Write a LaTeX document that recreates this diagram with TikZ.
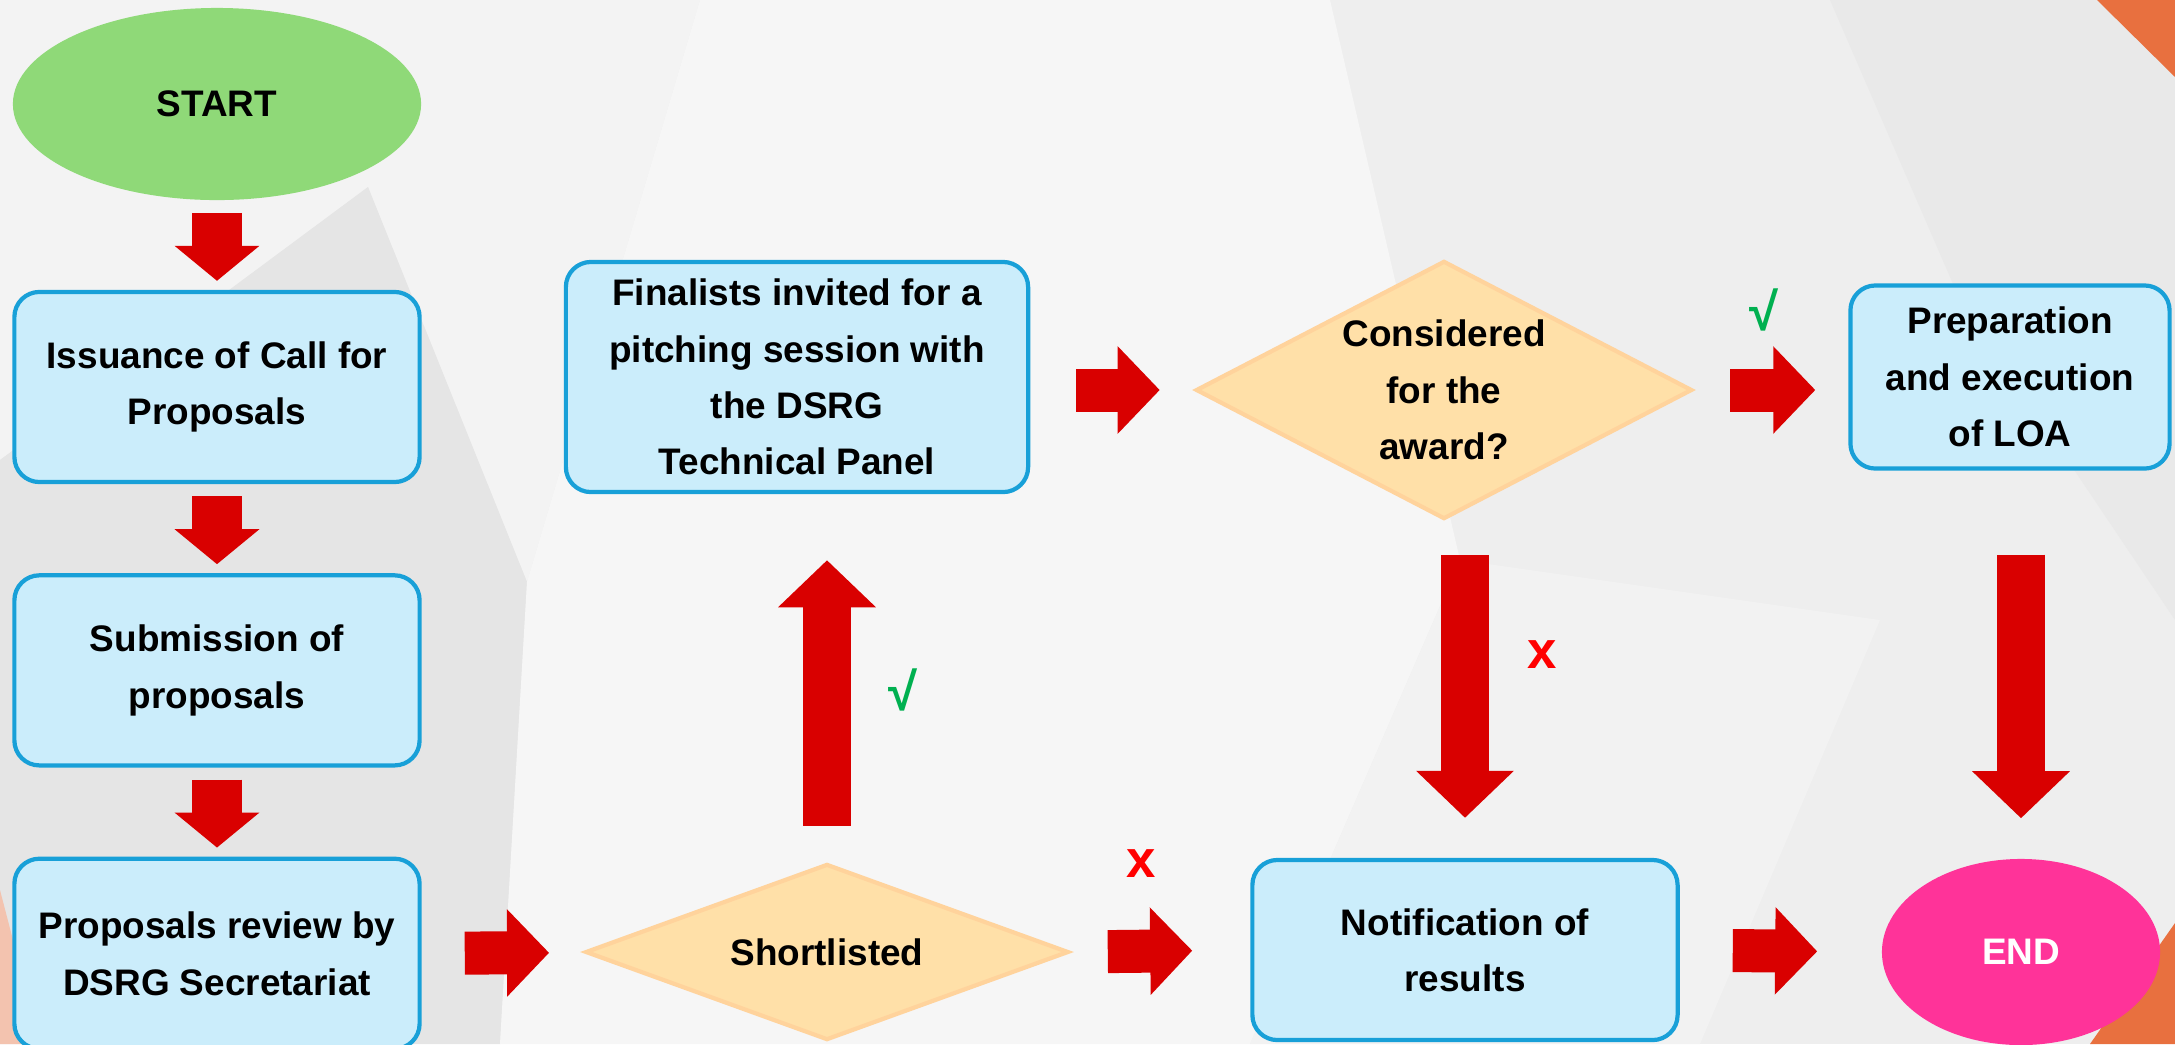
\documentclass[tikz,border=0pt]{standalone}
\usepackage{fontspec}
\setmainfont{Liberation Sans}
\usetikzlibrary{shapes.geometric, arrows.meta, positioning, calc}

\definecolor{boxfill}{HTML}{CBEDFB}
\definecolor{boxline}{HTML}{18A0D8}
\definecolor{decfill}{HTML}{FFE0A8}
\definecolor{decline}{HTML}{FFD39C}
\definecolor{startgreen}{HTML}{8FD978}
\definecolor{endpink}{HTML}{FF3399}
\definecolor{arrowred}{HTML}{D90000}
\definecolor{yesgreen}{HTML}{00B050}
\definecolor{nored}{HTML}{FF0000}
\definecolor{cornerorange}{HTML}{E8703F}
\definecolor{cornerpeach}{HTML}{F3C3AF}
\definecolor{bgbase}{HTML}{EEEEEE}
\definecolor{bglight}{HTML}{F6F6F6}
\definecolor{bgdark}{HTML}{E5E5E5}

\tikzset{
  stepbox/.style={draw=boxline, fill=boxfill, line width=1.2pt, rounded corners=0.25cm, align=center, inner sep=0pt},
  decision/.style={diamond, draw=decline, fill=decfill, line width=1.2pt, align=center, inner sep=0pt},
  terminal/.style={ellipse, inner sep=0pt},
  downarrow/.style={draw=arrowred, line width=0.5cm, -{Triangle[width=0.83cm, length=0.35cm]}},
  sidearrow/.style={draw=arrowred, line width=0.43cm, -{Triangle[width=0.85cm, length=0.42cm]}},
  longarrow/.style={draw=arrowred, line width=0.48cm, -{Triangle[width=0.95cm, length=0.47cm]}},
  marklabel/.style={inner sep=0pt, font=\bfseries\fontsize{#1}{#1}\selectfont}
}

\begin{document}
\begin{tikzpicture}[x=0.01cm, y=-0.01cm, font=\bfseries\fontsize{10.5}{16}\selectfont, node distance=0.89cm]
\useasboundingbox (0,0) rectangle (2175,1044);
% background facets
\fill[bgbase] (0,0) rectangle (2175,1044);
\fill[bglight!60!bgbase] (0,0) -- (700,0) -- (527,582) -- (368,187) -- (0,460) -- cycle;
\fill[bgdark] (0,460) -- (368,187) -- (527,582) -- (500,1044) -- (0,1044) -- cycle;
\fill[bglight] (527,582) -- (700,0) -- (1330,0) -- (1460,560) -- (1250,1044) -- (500,1044) -- cycle;
\fill[bglight!50!bgbase] (1460,560) -- (1880,620) -- (1700,1044) -- (1250,1044) -- cycle;
\fill[bgdark!60!bgbase] (1830,0) -- (2175,0) -- (2175,620) -- (1960,300) -- cycle;
\fill[cornerorange] (2097,0) -- (2175,0) -- (2175,77) -- cycle;
\fill[cornerorange] (2090,1044) -- (2175,923) -- (2175,1044) -- cycle;
\fill[cornerpeach] (0,890) -- (40,1044) -- (0,1044) -- cycle;

\node[terminal, fill=startgreen, minimum width=4.08cm, minimum height=1.92cm] (start) at (217,104) {START};
\node[stepbox, minimum width=4.05cm, minimum height=1.9cm, below=of start] (issue) {Issuance of Call for\\Proposals};
\node[stepbox, minimum width=4.05cm, minimum height=1.9cm, below=of issue] (submit) {Submission of\\proposals};
\node[stepbox, minimum width=4.05cm, minimum height=1.9cm, below=of submit] (review) {Proposals review by\\DSRG Secretariat};

\node[decision, minimum width=4.83cm, minimum height=1.76cm, aspect=2.74] (shortlist) at (827,952) {Shortlisted};
\node[stepbox, minimum width=4.62cm, minimum height=2.3cm] (finalists) at (797,377) {Finalists invited for a\\pitching session with\\the DSRG\\Technical Panel};
\node[decision, minimum width=4.96cm, minimum height=2.58cm, aspect=1.92] (award) at (1444,390) {Considered\\for the\\award?};
\node[stepbox, minimum width=3.19cm, minimum height=1.83cm] (loa) at (2010,377) {Preparation\\and execution\\of LOA};
\node[stepbox, minimum width=4.25cm, minimum height=1.8cm] (notify) at (1465,950) {Notification of\\results};
\node[terminal, fill=endpink, text=white, minimum width=2.78cm, minimum height=1.86cm] (finish) at (2021,952) {END};

\draw[downarrow, shorten <=0.12cm, shorten >=0.09cm] (start) -- (issue);
\draw[downarrow, shorten <=0.12cm, shorten >=0.09cm] (issue) -- (submit);
\draw[downarrow, shorten <=0.12cm, shorten >=0.09cm] (submit) -- (review);
\draw[sidearrow, shorten <=0.43cm, shorten >=0.36cm] (review) -- (shortlist);
\draw[longarrow, shorten <=0.36cm, shorten >=0.66cm] (shortlist.north) -- (shortlist.north |- finalists.south);
\draw[sidearrow, shorten <=0.46cm, shorten >=0.34cm] (finalists.east |- award.west) -- (award.west);
\draw[sidearrow, shorten <=0.36cm, shorten >=0.33cm] (award.east) -- (award.east -| loa.west);
\draw[longarrow, shorten <=0.34cm, shorten >=0.40cm] (notify.north |- award.south) -- (notify.north);
\draw[longarrow, shorten <=0.84cm, shorten >=0.40cm] (finish.north |- loa.south) -- (finish.north);
\draw[sidearrow, shorten <=0.37cm, shorten >=0.58cm] (shortlist.east) -- (notify.west);
\draw[sidearrow, shorten <=0.53cm, shorten >=0.64cm] (notify.east) -- (finish.west);

\node[marklabel=15, text=yesgreen] (yesfinal) at (903,690) {√};
\node[marklabel=15, text=yesgreen] (yesloa) at (1764,310) {√};
\node[marklabel=15, text=nored] (nonotify) at (1542,655) {x};
\node[marklabel=15, text=nored] (noshort) at (1141,864) {x};
\end{tikzpicture}
\end{document}
